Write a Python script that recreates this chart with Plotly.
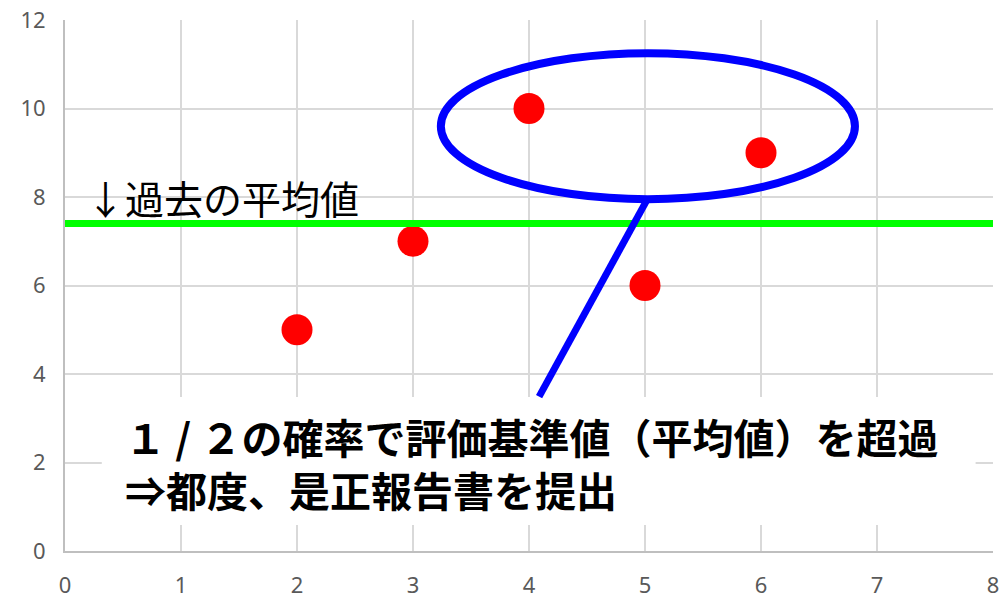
import plotly.graph_objects as go

# measurement points
x_vals = [2, 3, 4, 5, 6]
y_vals = [5, 7, 10, 6, 9]

# reference level: past average
past_average = 7.4

# axis ticks
x_ticks = [0, 1, 2, 3, 4, 5, 6, 7, 8]
y_ticks = [0, 2, 4, 6, 8, 10, 12]

# texts
avg_label = "↓過去の平均値"
note_line1 = "１ / ２の確率で評価基準値（平均値）を超過"
note_line2 = "⇒都度、是正報告書を提出"

fig = go.Figure()

fig.add_trace(go.Scatter(
    x=x_vals, y=y_vals, mode="markers",
    marker=dict(color="#ff0000", size=31, line=dict(width=0)),
    showlegend=False, hoverinfo="skip",
))

shapes = [
    # past-average line
    dict(type="line", xref="x", yref="y", x0=0, x1=8,
         y0=past_average, y1=past_average,
         line=dict(color="#00ff00", width=7), layer="above"),
    # white panel behind the note
    dict(type="rect", xref="x", yref="y", x0=0.317, x1=7.85, y0=0.588, y1=3.48,
         fillcolor="white", line=dict(width=0), layer="above"),
    # ellipse around the points above the average
    dict(type="circle", xref="x", yref="y", x0=3.24, x1=6.81, y0=7.95, y1=11.25,
         line=dict(color="#0000ff", width=8), fillcolor="rgba(0,0,0,0)", layer="above"),
    # callout pointer from ellipse to note
    dict(type="line", xref="x", yref="y", x0=5.016, y0=7.93, x1=4.087, y1=3.49,
         line=dict(color="#0000ff", width=7), layer="above"),
]

annotations = [
    dict(x=0.16, y=8.0, xref="x", yref="y", text=avg_label, showarrow=False,
         xanchor="left", yanchor="middle",
         font=dict(family="Noto Sans CJK JP", size=39, color="#000000")),
    dict(x=0.5, y=2.0, xref="x", yref="y",
         text="<b>" + note_line1 + "<br>" + note_line2 + "</b>",
         showarrow=False, xanchor="left", yanchor="middle", align="left",
         font=dict(family="Noto Sans CJK JP", size=41, color="#000000")),
]

fig.update_layout(
    width=1000, height=601,
    margin=dict(l=65, r=7, t=20, b=50),
    plot_bgcolor="white", paper_bgcolor="white",
    shapes=shapes, annotations=annotations,
    showlegend=False,
)

fig.update_xaxes(
    range=[0, 8], tickvals=x_ticks, ticktext=[str(v) for v in x_ticks],
    showgrid=True, gridcolor="#d9d9d9", gridwidth=1.5,
    showline=True, linecolor="#bfbfbf", linewidth=2,
    zeroline=False, ticks="outside", ticklen=14, tickcolor="rgba(0,0,0,0)",
    tickfont=dict(family="Noto Sans", size=22, color="#595959"),
    automargin=False,
)
fig.update_yaxes(
    range=[0, 12], tickvals=y_ticks, ticktext=[str(v) for v in y_ticks],
    showgrid=True, gridcolor="#d9d9d9", gridwidth=1.5,
    showline=True, linecolor="#bfbfbf", linewidth=2,
    zeroline=False, ticks="outside", ticklen=13, tickcolor="rgba(0,0,0,0)",
    tickfont=dict(family="Noto Sans", size=22, color="#595959"),
    automargin=False,
)

fig.write_html("out.html")
